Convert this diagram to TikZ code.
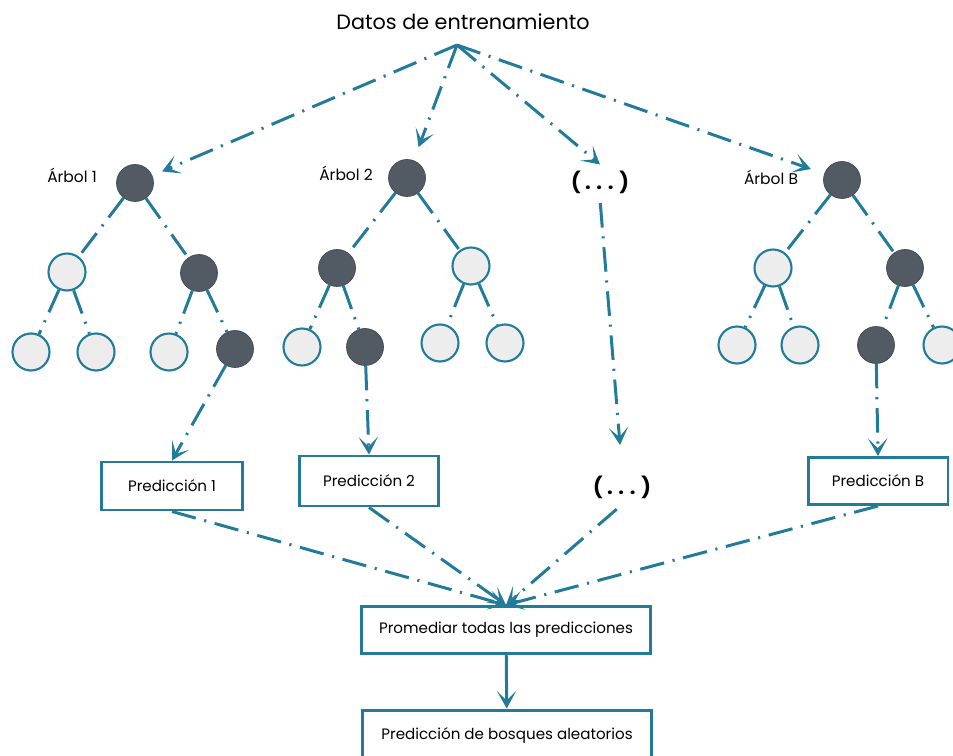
\documentclass[tikz,border=0pt]{standalone}
\usepackage{fontspec}
\setmainfont{Poppins}
\usetikzlibrary{arrows.meta}
\definecolor{azul}{RGB}{33,123,153}
\definecolor{grisosc}{RGB}{82,91,99}
\definecolor{grisclaro}{RGB}{237,237,237}

\begin{document}
\begin{tikzpicture}[x=0.02cm, y=-0.02cm,
    raya/.style={azul, line width=1.7pt, dash pattern=on 14pt off 5pt on 1.2pt off 5pt},
    flecha/.style={raya, -{Stealth[length=10pt,width=11pt,inset=5.5pt]}},
    recta/.style={azul, line width=1.7pt, -{Stealth[length=10pt,width=11pt,inset=5.5pt]}},
    oscuro/.style={circle, fill=grisosc, draw=grisosc!80!black, minimum size=0.74cm, inner sep=0pt},
    claro/.style={circle, fill=grisclaro, draw=azul, line width=1.2pt, minimum size=0.74cm, inner sep=0pt},
    caja/.style={draw=azul, line width=1.7pt, fill=white, inner sep=0pt, font=\fontsize{8.6}{10}\selectfont, text=black},
    etiq/.style={font=\fontsize{8.8}{10}\selectfont, text=black},
    puntos/.style={font=\fontsize{11.5}{13}\selectfont\bfseries, text=black}]
        \useasboundingbox (0,0) rectangle (953,756);

        % Datos de entrenamiento
        \node (datos) at (463,22) [font=\fontsize{11.8}{14}\selectfont, text=black] {Datos de entrenamiento};
        \coordinate (o) at (457,45);

        % Árbol 1
        \node (r1) at (135,183) [oscuro] {};
        \node (a1) at (67,272) [claro] {};
        \node (b1) at (199,273) [oscuro] {};
        \node (a1i) at (31,352) [claro] {};
        \node (a1d) at (96,352) [claro] {};
        \node (b1i) at (169,352) [claro] {};
        \node (b1d) at (235,349) [oscuro] {};
        \node (t1) at (72,175) [etiq] {Árbol 1};

        % Árbol 2
        \node (r2) at (407,178) [oscuro] {};
        \node (a2) at (337,268) [oscuro] {};
        \node (b2) at (471,266) [claro] {};
        \node (a2i) at (302,347) [claro] {};
        \node (a2d) at (365,347) [oscuro] {};
        \node (b2i) at (440,343) [claro] {};
        \node (b2d) at (505,343) [claro] {};
        \node (t2) at (346,173) [etiq] {Árbol 2};

        % Árbol B
        \node (rB) at (842,180) [oscuro] {};
        \node (aB) at (773,268) [claro] {};
        \node (bB) at (905,268) [oscuro] {};
        \node (aBi) at (737,345) [claro] {};
        \node (aBd) at (800,345) [claro] {};
        \node (bBi) at (876,345) [oscuro] {};
        \node (bBd) at (942,345) [claro] {};
        \node (tB) at (771,177) [etiq] {Árbol B};

        \node (m1) at (600,182) [puntos] {( . . . )};
        \node (m2) at (622,487) [puntos] {( . . . )};

        % Predicciones
        \node (p1) at (172,486) [caja, minimum width=2.82cm, minimum height=0.96cm] {Predicción 1};
        \node (p2) at (369,481) [caja, minimum width=2.8cm, minimum height=1cm] {Predicción 2};
        \node (pB) at (878,481) [caja, minimum width=2.8cm, minimum height=0.94cm] {Predicción B};
        \node (prom) at (506,630) [caja, minimum width=5.8cm, minimum height=0.94cm] {Promediar todas las predicciones};
        \node (bosq) at (507,736) [caja, minimum width=5.8cm, minimum height=1.04cm] {Predicción de bosques aleatorios};

        % Ramas
        \foreach \p/\h in {r1/a1, r1/b1, a1/a1i, a1/a1d, b1/b1i, b1/b1d,
                           r2/a2, r2/b2, a2/a2i, a2/a2d, b2/b2i, b2/b2d,
                           rB/aB, rB/bB, aB/aBi, aB/aBd, bB/bBi, bB/bBd}
            \draw[raya] (\p) -- (\h);

        % Muestras de los datos
        \draw[flecha, shorten >=6pt] (o) -- (r1);
        \draw[flecha, shorten >=8pt] (o) -- (r2);
        \draw[flecha, shorten >=8pt] (o) -- (rB);
        \draw[flecha] (o) -- (m1.north);

        % Hacia las predicciones
        \draw[flecha] (b1d) -- (p1.north);
        \draw[flecha] (a2d) -- (p2.north);
        \draw[flecha] (bBi) -- (pB.north);
        \draw[flecha, shorten <=2pt, shorten >=14pt] (m1.south) -- (m2.north);

        % Promedio
        \draw[flecha] (p1.south) -- (prom.north);
        \draw[flecha] (p2.south) -- (prom.north);
        \draw[flecha, shorten <=4pt] (m2.south) -- (prom.north);
        \draw[flecha] (pB.south) -- (prom.north);
        \draw[recta] (prom) -- (bosq);

\end{tikzpicture}
\end{document}
